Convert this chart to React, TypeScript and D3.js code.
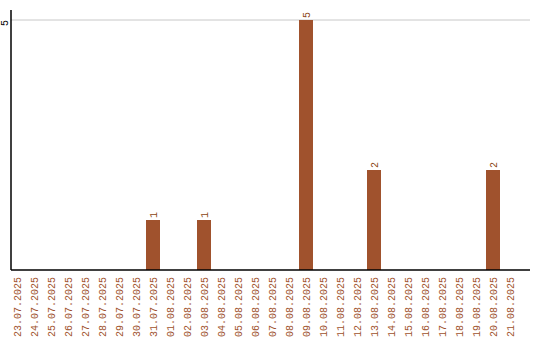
import React from "react";
import * as d3 from "d3";

const dates = [
  "23.07.2025", "24.07.2025", "25.07.2025", "26.07.2025", "27.07.2025",
  "28.07.2025", "29.07.2025", "30.07.2025", "31.07.2025", "01.08.2025",
  "02.08.2025", "03.08.2025", "04.08.2025", "05.08.2025", "06.08.2025",
  "07.08.2025", "08.08.2025", "09.08.2025", "10.08.2025", "11.08.2025",
  "12.08.2025", "13.08.2025", "14.08.2025", "15.08.2025", "16.08.2025",
  "17.08.2025", "18.08.2025", "19.08.2025", "20.08.2025", "21.08.2025",
];
const counts = [
  0, 0, 0, 0, 0, 0, 0, 0, 1, 0,
  0, 1, 0, 0, 0, 0, 0, 5, 0, 0,
  0, 2, 0, 0, 0, 0, 0, 0, 2, 0,
];
const yTicks = [5];

const W = 540;
const H = 340;
const left = 11;
const right = 530;
const top = 10;
const bottom = 270;
const barColor = "#a0522d";
const font = "'Liberation Mono', 'DejaVu Sans Mono', monospace";

export default function App() {
  const x = d3
    .scaleBand<string>()
    .domain(dates)
    .range([8.5, 518.5])
    .paddingInner(3 / 17)
    .paddingOuter(1.5 / 17);
  const y = d3.scaleLinear().domain([0, 5]).range([bottom, 20]);

  return (
    <svg
      width={W}
      height={H}
      style={{ position: "absolute", left: 0, top: 0 }}
      fontFamily={font}
    >
      <rect width={W} height={H} fill="#fff" />
      {yTicks.map((t) => (
        <g key={t}>
          <line x1={left} x2={right} y1={y(t)} y2={y(t)} stroke="#c8c8c8" strokeWidth={1} />
          <text
            transform={`translate(8,${y(t) + 3}) rotate(-90)`}
            textAnchor="middle"
            fontSize={10}
            fill="#000"
          >
            {t}
          </text>
        </g>
      ))}
      {dates.map((d, i) =>
        counts[i] > 0 ? (
          <g key={d}>
            <rect
              x={x(d)}
              y={y(counts[i])}
              width={x.bandwidth()}
              height={y(0) - y(counts[i])}
              fill={barColor}
            />
            <text
              transform={`translate(${(x(d) as number) + x.bandwidth() / 2 + 3.5},${y(counts[i]) - 2}) rotate(-90)`}
              textAnchor="start"
              fontSize={10}
              fill="#8b4513"
            >
              {counts[i]}
            </text>
          </g>
        ) : null
      )}
      <line x1={left} x2={left} y1={top} y2={bottom} stroke="#000" strokeWidth={1.5} />
      <line x1={left} x2={right} y1={bottom} y2={bottom} stroke="#000" strokeWidth={1.5} />
      {dates.map((d) => (
        <text
          key={"l" + d}
          transform={`translate(${(x(d) as number) + x.bandwidth() / 2 + 3.5},${bottom + 7}) rotate(-90)`}
          textAnchor="end"
          fontSize={10}
          fill={barColor}
        >
          {d}
        </text>
      ))}
    </svg>
  );
}
